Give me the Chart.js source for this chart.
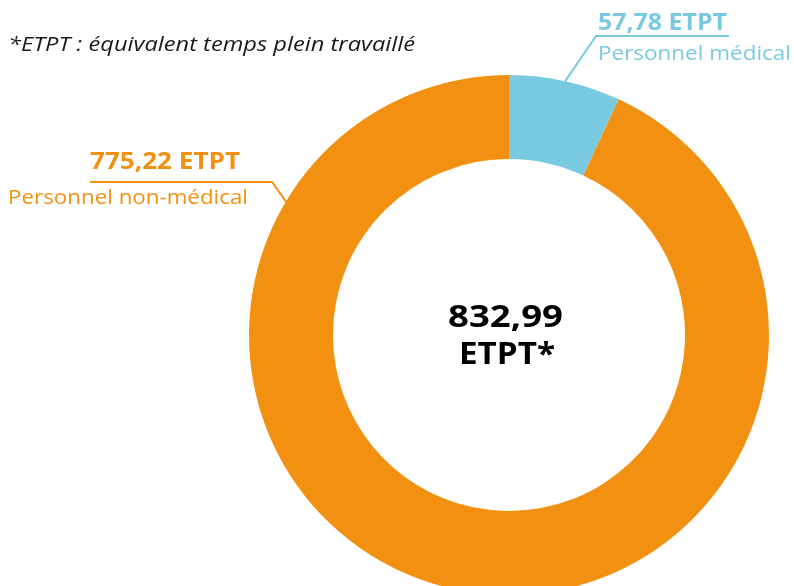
<!DOCTYPE html>
<html lang="fr">
<head>
<meta charset="utf-8">
<script src="https://cdn.jsdelivr.net/npm/chart.js@4.4.1/dist/chart.umd.min.js"></script>
<style>
  html, body { margin: 0; padding: 0; background: #fff; overflow: hidden; }
  #wrap { position: relative; width: 794px; height: 700px; }
</style>
</head>
<body>
<div id="wrap"><canvas id="myChart"></canvas></div>
<script>
// données
const categories = ['Personnel médical', 'Personnel non-médical'];
const values = [57.78, 775.22];
const valueLabels = ['57,78 ETPT', '775,22 ETPT'];
const totalLabel = ['832,99', 'ETPT*'];
const footnote = '*ETPT : équivalent temps plein travaillé';
const colors = ['#79CAE1', '#F29111'];

const FONT = '"Open Sans", sans-serif';

// écrit un texte étiré à la largeur voulue (police plus étroite que l'original)
function fitText(ctx, text, x, y, width, align) {
    const w = ctx.measureText(text).width;
    const s = width / w;
    ctx.save();
    ctx.textAlign = 'left';
    const left = align === 'center' ? x - width / 2 : x;
    ctx.translate(left, y);
    ctx.scale(s, 1);
    ctx.fillText(text, 0, 0);
    ctx.restore();
}

// textes, lignes de rappel et total au centre
const labelsPlugin = {
    id: 'labelsPlugin',
    afterDraw(chart) {
        const ctx = chart.ctx;
        const arcs = chart.getDatasetMeta(0).data;
        const cx = arcs[0].x, cy = arcs[0].y, r = arcs[0].outerRadius;

        ctx.save();
        ctx.textBaseline = 'alphabetic';
        // note
        ctx.fillStyle = '#1a1a1a';
        ctx.font = 'italic 19.5px ' + FONT;
        fitText(ctx, footnote, 8, 51, 407);

        // centre
        ctx.fillStyle = '#000';
        ctx.font = 'bold 30px ' + FONT;
        fitText(ctx, totalLabel[0], 505.5, 327, 115, 'center');
        fitText(ctx, totalLabel[1], 507, 364, 96, 'center');

        // Personnel médical (milieu de l'arc)
        const a0 = (arcs[0].startAngle + arcs[0].endAngle) / 2;
        ctx.strokeStyle = colors[0];
        ctx.lineWidth = 2;
        ctx.beginPath();
        ctx.moveTo(cx + Math.cos(a0) * r, cy + Math.sin(a0) * r);
        ctx.lineTo(596, 36);
        ctx.lineTo(729, 36);
        ctx.stroke();
        ctx.fillStyle = colors[0];
        ctx.font = 'bold 22.4px ' + FONT;
        fitText(ctx, valueLabels[0], 598, 30, 129);
        ctx.font = '19.6px ' + FONT;
        fitText(ctx, categories[0], 598, 60, 193);

        // Personnel non-médical
        const a1 = -Math.PI / 2 - 59.3 * Math.PI / 180;
        ctx.strokeStyle = colors[1];
        ctx.beginPath();
        ctx.moveTo(cx + Math.cos(a1) * (r - 2), cy + Math.sin(a1) * (r - 2));
        ctx.lineTo(272, 182);
        ctx.lineTo(90, 182);
        ctx.stroke();
        ctx.fillStyle = colors[1];
        ctx.font = 'bold 22.4px ' + FONT;
        fitText(ctx, valueLabels[1], 90, 169, 150);
        ctx.font = '19.6px ' + FONT;
        fitText(ctx, categories[1], 8, 204, 240);
        ctx.restore();
    }
};

const ctx = document.getElementById('myChart').getContext('2d');
const myChart = new Chart(ctx, {
    type: 'doughnut',
    data: {
        labels: categories,
        datasets: [{
            data: values,
            backgroundColor: colors,
            borderWidth: 0,
            hoverOffset: 0
        }]
    },
    options: {
        responsive: true,
        maintainAspectRatio: false,
        animation: false,
        cutout: '67.7%',
        layout: { padding: { left: 249, right: 25, top: 75, bottom: 105 } },
        plugins: {
            legend: { display: false },
            tooltip: { enabled: false }
        }
    },
    plugins: [labelsPlugin]
});
</script>
</body>
</html>
